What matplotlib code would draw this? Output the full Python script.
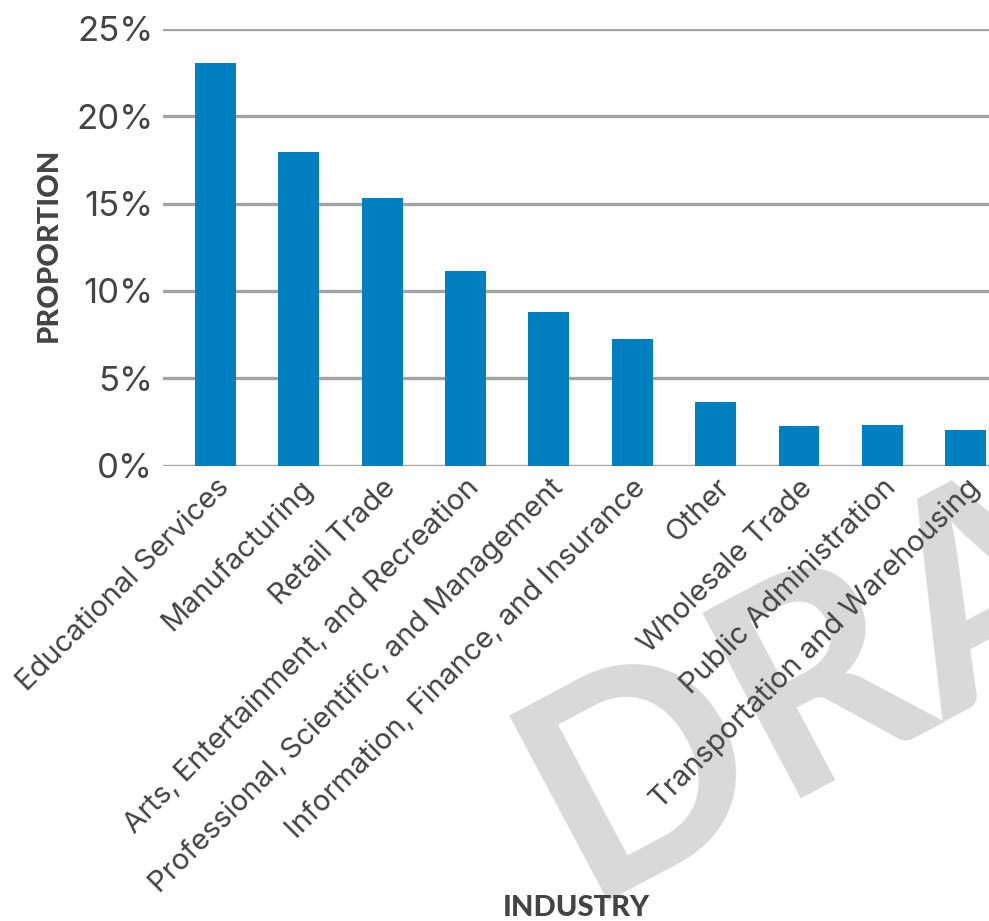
import matplotlib
matplotlib.use("Agg")
import matplotlib.pyplot as plt
from matplotlib.ticker import FuncFormatter, MultipleLocator

industries = [
    "Educational Services",
    "Manufacturing",
    "Retail Trade",
    "Arts, Entertainment, and Recreation",
    "Professional, Scientific, and Management",
    "Information, Finance, and Insurance",
    "Other",
    "Wholesale Trade",
    "Public Administration",
    "Transportation and Warehousing",
]
proportion = [23.05, 17.95, 15.31, 11.13, 8.79, 7.24, 3.64, 2.27, 2.33, 2.04]

BAR_COLOR = "#0080c0"
GRID_COLOR = "#a3a3a3"
TEXT_COLOR = "#444444"

fig = plt.figure(figsize=(9.89, 9.21), dpi=100)
ax = fig.add_axes([0.1648, 0.4943, 0.8352, 0.4745])
ax.set_facecolor("white")
ax.set_zorder(1)

# watermark, sitting underneath the plot area
fig.text(0.5915, 1 - 901 / 921, "DRAFT", fontsize=208, fontweight="bold",
         family="Lato", color="#d9d9d9", rotation=28, rotation_mode="anchor",
         ha="left", va="baseline", zorder=-5)

x = range(len(industries))
ax.bar(x, proportion, width=0.49, color=BAR_COLOR, zorder=3)

ax.set_xlim(-0.63, 9.28)
ax.set_ylim(0, 25)
ax.yaxis.set_major_locator(MultipleLocator(5))
ax.yaxis.set_major_formatter(FuncFormatter(lambda v, p: f"{v:.0f}%"))
ax.grid(axis="y", color=GRID_COLOR, linewidth=2.4, zorder=1)
ax.set_axisbelow(True)
for s in ax.spines.values():
    s.set_visible(False)

ax.tick_params(axis="y", length=0, pad=7, labelsize=25, labelcolor=TEXT_COLOR)
ax.tick_params(axis="x", length=0, pad=6, labelsize=21, labelcolor=TEXT_COLOR)
for lab in ax.get_yticklabels():
    lab.set_family("Inter")
    lab.set_fontweight("normal")

ax.set_xticks(list(x))
ax.set_xticklabels(industries, rotation=45, ha="right", rotation_mode="anchor",
                   family="Inter", fontweight="normal")

ax.set_ylabel("PROPORTION", family="Lato", fontweight="black", fontsize=21,
              color=TEXT_COLOR)
ax.yaxis.set_label_coords(-0.123, 0.506)

fig.text(0.5825, 1 - 895 / 921, "INDUSTRY", family="Lato", fontweight="black",
         fontsize=21, color=TEXT_COLOR, ha="center", va="top")

fig.savefig("out.png", dpi=100)
